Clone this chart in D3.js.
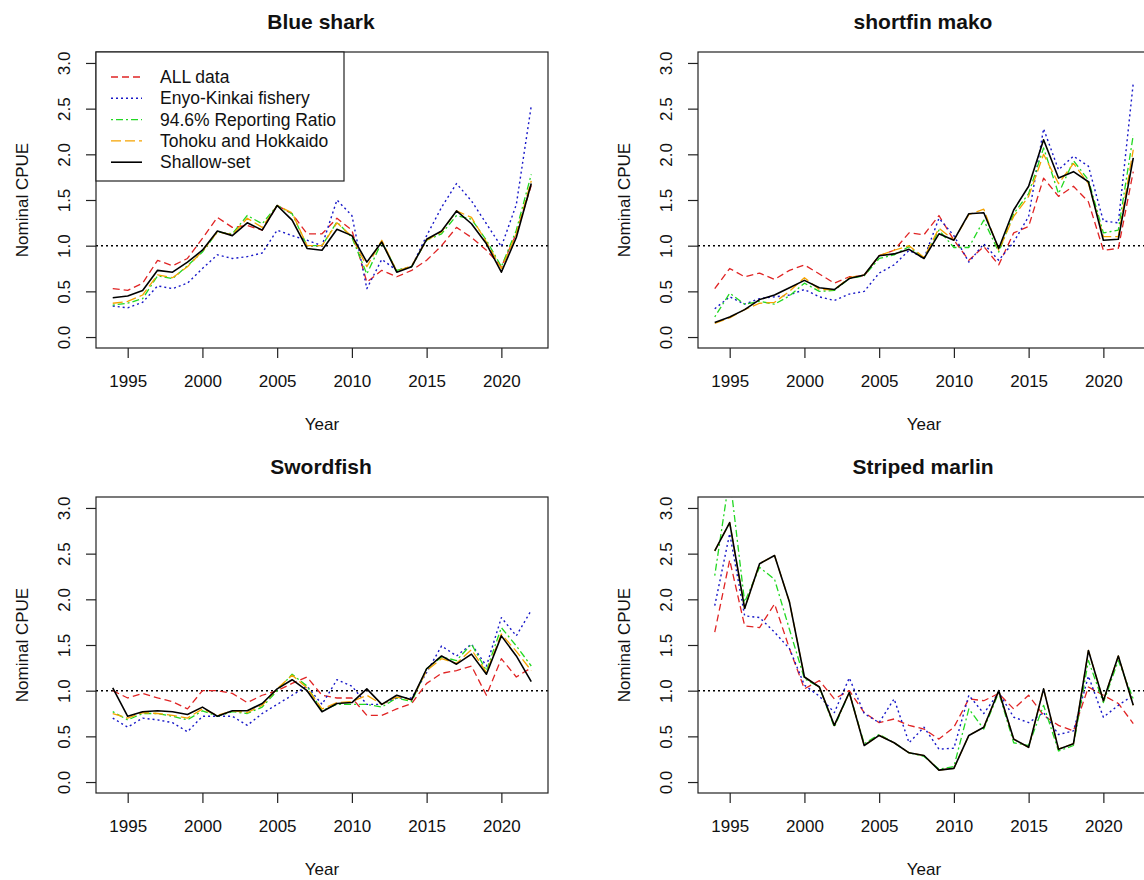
<!DOCTYPE html>
<html><head><meta charset="utf-8">
<script src="https://cdn.jsdelivr.net/npm/d3@7"></script>
<style>
body{margin:0;background:#fff}
svg{display:block}
text{font-family:"Liberation Sans",Arial,Helvetica,sans-serif;fill:#111}
</style>
</head><body>
<svg id="c" width="1144" height="880"></svg>
<script>
// ---------- data ----------
const years = [1994,1995,1996,1997,1998,1999,2000,2001,2002,2003,2004,2005,2006,2007,2008,2009,2010,2011,2012,2013,2014,2015,2016,2017,2018,2019,2020,2021,2022];
const seriesNames = ["ALL data","Enyo-Kinkai fishery","94.6% Reporting Ratio","Tohoku and Hokkaido","Shallow-set"];
const panelTitles = ["Blue shark","shortfin mako","Swordfish","Striped marlin"];
const xTickValues = [1995,2000,2005,2010,2015,2020];
const yTickValues = [0,0.5,1,1.5,2,2.5,3];
const refLevel = 1.0;

// Blue shark
const blueAll  = [0.53,0.51,0.59,0.84,0.78,0.86,1.08,1.31,1.20,1.22,1.17,1.44,1.35,1.13,1.13,1.30,1.17,0.60,0.73,0.66,0.73,0.84,1.00,1.20,1.09,0.95,0.77,1.13,1.66];
const blueEnyo = [0.34,0.32,0.38,0.56,0.53,0.59,0.75,0.90,0.86,0.88,0.92,1.17,1.11,1.06,1.00,1.50,1.33,0.53,0.85,0.73,0.77,1.11,1.42,1.68,1.49,1.24,0.99,1.45,2.53];
const blueRR   = [0.35,0.37,0.42,0.67,0.64,0.78,0.93,1.15,1.13,1.33,1.24,1.44,1.35,1.00,1.00,1.26,1.09,0.69,1.04,0.73,0.77,1.06,1.13,1.33,1.29,1.06,0.77,1.17,1.78];
const blueTH   = [0.37,0.39,0.46,0.68,0.65,0.77,0.94,1.15,1.12,1.30,1.20,1.44,1.36,1.00,1.00,1.25,1.10,0.77,1.06,0.72,0.78,1.06,1.15,1.38,1.31,1.04,0.75,1.13,1.71];
const blueSS   = [0.43,0.45,0.51,0.73,0.71,0.82,0.95,1.16,1.11,1.25,1.17,1.44,1.28,0.97,0.95,1.18,1.11,0.82,1.04,0.71,0.77,1.07,1.16,1.38,1.24,1.02,0.71,1.09,1.68];

// Shortfin mako
const makoAll  = [0.53,0.75,0.66,0.70,0.63,0.73,0.79,0.69,0.59,0.66,0.67,0.89,0.95,1.14,1.12,1.33,1.06,0.84,0.99,0.79,1.14,1.21,1.74,1.54,1.65,1.48,0.95,0.97,1.81];
const makoEnyo = [0.31,0.44,0.36,0.42,0.44,0.46,0.52,0.44,0.40,0.47,0.50,0.70,0.79,0.95,0.86,1.30,1.11,0.82,1.02,0.84,1.04,1.32,2.28,1.83,1.98,1.87,1.27,1.25,2.78];
const makoRR   = [0.22,0.48,0.36,0.39,0.36,0.45,0.59,0.50,0.51,0.64,0.67,0.86,0.90,0.99,0.86,1.17,0.98,0.98,1.28,0.93,1.35,1.57,2.07,1.57,1.93,1.72,1.14,1.17,2.21];
const makoTH   = [0.15,0.21,0.30,0.37,0.38,0.50,0.65,0.52,0.52,0.65,0.68,0.89,0.95,1.00,0.87,1.19,1.06,1.34,1.40,0.95,1.32,1.54,2.00,1.68,1.90,1.68,1.10,1.10,2.05];
const makoSS   = [0.16,0.22,0.30,0.41,0.46,0.54,0.62,0.54,0.52,0.64,0.68,0.89,0.91,0.96,0.86,1.13,1.06,1.35,1.36,0.97,1.39,1.65,2.16,1.74,1.81,1.70,1.06,1.07,1.96];

// Swordfish
const swoAll   = [1.00,0.92,0.97,0.92,0.88,0.80,1.00,1.00,0.97,0.87,0.95,1.00,1.08,1.15,0.95,0.92,0.92,0.73,0.73,0.80,0.86,1.08,1.19,1.22,1.27,0.95,1.35,1.15,1.25];
const swoEnyo  = [0.70,0.60,0.70,0.68,0.65,0.55,0.72,0.72,0.72,0.62,0.75,0.85,0.95,1.05,0.85,1.12,1.05,0.85,0.85,0.92,0.92,1.20,1.49,1.38,1.51,1.27,1.80,1.60,1.88];
const swoRR    = [0.77,0.68,0.75,0.75,0.72,0.68,0.78,0.72,0.77,0.75,0.82,1.00,1.18,1.05,0.78,0.85,0.85,0.85,0.82,0.92,0.88,1.24,1.37,1.33,1.51,1.22,1.69,1.49,1.27];
const swoTH    = [0.75,0.70,0.76,0.75,0.73,0.70,0.80,0.73,0.78,0.76,0.84,1.02,1.17,1.03,0.80,0.87,0.88,0.95,0.85,0.93,0.90,1.22,1.35,1.30,1.45,1.20,1.62,1.43,1.22];
const swoSS    = [1.03,0.72,0.77,0.78,0.77,0.74,0.82,0.72,0.78,0.78,0.86,1.02,1.12,1.00,0.77,0.86,0.87,1.02,0.85,0.95,0.90,1.24,1.38,1.29,1.40,1.18,1.60,1.38,1.10];

// Striped marlin
const marAll   = [1.64,2.43,1.71,1.69,1.95,1.46,1.02,1.11,0.91,1.00,0.76,0.65,0.69,0.62,0.58,0.47,0.60,0.91,0.89,0.97,0.80,0.95,0.73,0.62,0.56,1.04,0.95,0.86,0.64];
const marEnyo  = [1.93,2.72,1.82,1.80,1.64,1.46,1.06,0.94,0.76,1.14,0.75,0.65,0.91,0.43,0.60,0.36,0.37,0.95,0.75,0.98,0.71,0.65,0.76,0.52,0.56,1.16,0.71,0.84,0.95];
const marRR    = [2.26,3.35,1.97,2.35,2.22,1.67,1.13,1.04,0.60,0.98,0.42,0.52,0.43,0.32,0.28,0.14,0.17,0.80,0.58,0.98,0.43,0.40,0.84,0.34,0.40,1.33,0.87,1.33,0.91];
const marTH    = [2.53,2.84,1.90,2.39,2.48,1.97,1.15,1.04,0.62,0.98,0.40,0.51,0.43,0.32,0.29,0.13,0.15,0.51,0.60,1.00,0.47,0.38,1.02,0.36,0.42,1.44,0.89,1.38,0.84];
const marSS    = [2.53,2.84,1.90,2.39,2.48,1.97,1.15,1.04,0.62,0.98,0.40,0.51,0.43,0.32,0.29,0.13,0.15,0.51,0.60,1.00,0.47,0.38,1.02,0.36,0.42,1.44,0.89,1.38,0.84];

const panelSeries = [
  [blueAll, blueEnyo, blueRR, blueTH, blueSS],
  [makoAll, makoEnyo, makoRR, makoTH, makoSS],
  [swoAll,  swoEnyo,  swoRR,  swoTH,  swoSS],
  [marAll,  marEnyo,  marRR,  marTH,  marSS]
];

// ---------- styles ----------
const lineStyles = [
  {color:"#e02424", dash:"7,4",      width:1.3},
  {color:"#1818c8", dash:"2,3",      width:1.4},
  {color:"#22d822", dash:"2,3,7,3",  width:1.3},
  {color:"#f5a300", dash:"10,4",     width:1.3},
  {color:"#000000", dash:null,       width:1.6}
];

const svg = d3.select("#c");
const PW = 452, PH = 296;
const origins = [[96,52],[698,52],[96,497],[698,497]];
const baseFont = 17;

const defs = svg.append("defs");

panelSeries.forEach((series, i) => {
  const [x0, y0] = origins[i];
  const x = d3.scaleLinear().domain([1992.88, 2023.12]).range([x0, x0 + PW]);
  const y = d3.scaleLinear().domain([-0.12, 3.12]).range([y0 + PH, y0]);
  const g = svg.append("g");

  defs.append("clipPath").attr("id", "clip" + i)
    .append("rect").attr("x", x0).attr("y", y0).attr("width", PW).attr("height", PH);

  const plot = g.append("g").attr("clip-path", `url(#clip${i})`);

  // reference line
  plot.append("line")
    .attr("x1", x0).attr("x2", x0 + PW)
    .attr("y1", y(refLevel)).attr("y2", y(refLevel))
    .attr("stroke", "#000").attr("stroke-width", 1.5)
    .attr("stroke-dasharray", "2,3");

  const line = d3.line().x((d, j) => x(years[j])).y(d => y(d));
  series.forEach((vals, k) => {
    const st = lineStyles[k];
    plot.append("path")
      .attr("d", line(vals))
      .attr("fill", "none")
      .attr("stroke", st.color)
      .attr("stroke-width", st.width)
      .attr("stroke-dasharray", st.dash)
      .attr("stroke-linejoin", "round");
  });

  // box
  g.append("rect").attr("x", x0).attr("y", y0).attr("width", PW).attr("height", PH)
    .attr("fill", "none").attr("stroke", "#222").attr("stroke-width", 1.2);

  // x axis
  const xa = g.append("g").attr("transform", `translate(0,${y0 + PH})`)
    .call(d3.axisBottom(x).tickValues(xTickValues).tickSize(10).tickPadding(17).tickFormat(d3.format("d")));
  xa.select(".domain").remove();
  xa.selectAll(".tick line").attr("stroke", "#222").attr("stroke-width", 1.2);
  xa.selectAll(".tick text").attr("font-size", baseFont).attr("fill", "#111")
    .style("font-family", '"Liberation Sans",Arial,sans-serif');

  // y axis
  const ya = g.append("g").attr("transform", `translate(${x0},0)`)
    .call(d3.axisLeft(y).tickValues(yTickValues).tickSize(10).tickFormat(d3.format(".1f")));
  ya.select(".domain").remove();
  ya.selectAll(".tick line").attr("stroke", "#222").attr("stroke-width", 1.2);
  ya.selectAll(".tick text")
    .attr("x", 0).attr("dy", 0)
    .attr("text-anchor", "middle")
    .attr("transform", "translate(-26,0) rotate(-90)")
    .attr("font-size", baseFont).attr("fill", "#111")
    .style("font-family", '"Liberation Sans",Arial,sans-serif');

  // titles
  g.append("text").attr("x", x0 + PW / 2 - 1).attr("y", y0 - 23)
    .attr("text-anchor", "middle").attr("font-size", 21).attr("font-weight", "bold")
    .text(panelTitles[i]);
  g.append("text").attr("x", x0 + PW / 2).attr("y", y0 + PH + 82)
    .attr("text-anchor", "middle").attr("font-size", baseFont)
    .text("Year");
  g.append("text")
    .attr("transform", `translate(${x0 - 68},${y0 + PH / 2}) rotate(-90)`)
    .attr("text-anchor", "middle").attr("font-size", baseFont)
    .text("Nominal CPUE");
});

// legend (first panel)
const [lx, ly] = origins[0];
const lg = svg.append("g");
lg.append("rect").attr("x", lx).attr("y", ly).attr("width", 248).attr("height", 129)
  .attr("fill", "#fff").attr("stroke", "#222").attr("stroke-width", 1.2);
seriesNames.forEach((name, k) => {
  const st = lineStyles[k];
  const cy = ly + 25 + k * 21.3;
  lg.append("line").attr("x1", lx + 15).attr("x2", lx + 46).attr("y1", cy).attr("y2", cy)
    .attr("stroke", st.color).attr("stroke-width", st.width).attr("stroke-dasharray", st.dash);
  lg.append("text").attr("x", lx + 64).attr("y", cy + 6)
    .attr("font-size", 17.5).text(name);
});
</script>
</body></html>
